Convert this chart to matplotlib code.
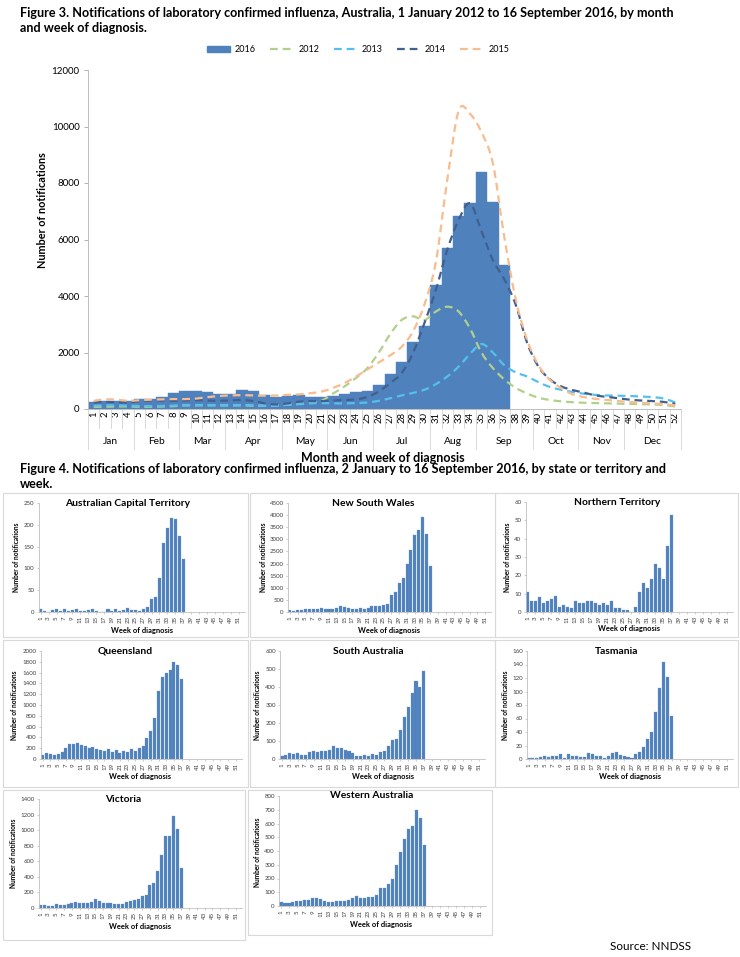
import numpy as np
import matplotlib
matplotlib.use('Agg')
import matplotlib.pyplot as plt
from matplotlib.path import Path
from matplotlib.patches import PathPatch, Patch, Rectangle
from matplotlib.lines import Line2D
import matplotlib.transforms as mtransforms

plt.rcParams['font.family'] = ['Lato', 'DejaVu Sans']

# ---------------- data: national (Figure 3) ----------------
weeks = list(range(1, 53))
weeks_2016 = list(range(1, 38))
cases_2016 = [260, 300, 290, 280, 340, 370, 440, 560, 620, 630, 590, 545, 545,
              675, 640, 510, 440, 475, 485, 440, 415, 475, 545, 590, 640, 840,
              1250, 1650, 2360, 2950, 4390, 5690, 6840, 7280, 8400, 7340, 5100]
cases_2012 = [80, 80, 90, 90, 80, 80, 90, 100, 130, 130, 130, 130, 130, 130, 120,
              120, 130, 150, 180, 220, 300, 550, 800, 1100, 1450, 2000, 2650,
              3150, 3280, 3150, 3450, 3620, 3450, 2850, 2000, 1450, 1050, 750,
              550, 400, 320, 270, 240, 220, 210, 200, 190, 180, 170, 160, 140, 90]
cases_2013 = [120, 130, 130, 120, 110, 100, 110, 120, 130, 140, 140, 130, 130,
              140, 130, 110, 120, 150, 170, 200, 210, 200, 200, 210, 230, 290,
              380, 480, 570, 680, 880, 1150, 1500, 1950, 2300, 2000, 1550, 1300,
              1150, 950, 780, 680, 600, 540, 500, 480, 470, 460, 440, 420, 370, 230]
cases_2014 = [230, 250, 240, 230, 280, 300, 300, 290, 300, 310, 300, 290, 300,
              320, 280, 200, 160, 200, 260, 280, 280, 300, 320, 340, 430, 620,
              920, 1270, 1980, 3040, 4210, 5630, 6690, 7280, 6300, 5270, 4600,
              3700, 2350, 1500, 1050, 800, 670, 580, 480, 430, 380, 330, 300,
              280, 250, 180]
cases_2015 = [290, 340, 330, 290, 310, 330, 340, 350, 350, 370, 420, 460, 480,
              490, 480, 470, 480, 500, 520, 560, 620, 750, 920, 1150, 1400, 1650,
              1900, 2200, 2750, 3700, 5200, 8100, 10550, 10450, 9800, 8700, 6100,
              3900, 2450, 1550, 1030, 740, 520, 420, 360, 320, 280, 250, 220, 200,
              170, 130]
months = ['Jan', 'Feb', 'Mar', 'Apr', 'May', 'Jun', 'Jul', 'Aug', 'Sep', 'Oct',
          'Nov', 'Dec']
month_week_counts = [4, 4, 4, 5, 4, 4, 5, 4, 5, 4, 4, 5]
main_yticks = [0, 2000, 4000, 6000, 8000, 10000, 12000]

# ---------------- data: states (Figure 4) ----------------
states = ['Australian Capital Territory', 'New South Wales', 'Northern Territory',
          'Queensland', 'South Australia', 'Tasmania', 'Victoria',
          'Western Australia']
act = [8, 3, 1, 4, 6, 2, 7, 2, 5, 7, 3, 3, 4, 6, 2, 1, 1, 6, 2, 6, 3, 5, 10, 5,
       5, 2, 6, 11, 30, 35, 77, 158, 193, 215, 214, 174, 121]
nsw = [80, 50, 100, 90, 110, 130, 130, 130, 150, 140, 140, 140, 150, 240, 200,
       150, 110, 110, 150, 130, 170, 230, 260, 230, 270, 350, 700, 830, 1200,
       1400, 2000, 2580, 3180, 3400, 3920, 3200, 1900]
nt = [11, 6, 6, 8, 5, 6, 7, 9, 3, 4, 3, 2, 6, 5, 5, 6, 6, 5, 4, 5, 4, 6, 2, 2, 1,
      1, 0, 3, 11, 16, 13, 18, 26, 24, 18, 36, 53]
qld = [80, 110, 90, 70, 100, 130, 200, 270, 270, 300, 260, 240, 210, 230, 190,
       160, 150, 180, 130, 170, 120, 140, 130, 180, 150, 200, 240, 390, 520, 760,
       1260, 1520, 1590, 1650, 1800, 1740, 1490]
sa = [15, 20, 32, 28, 35, 20, 25, 40, 45, 38, 42, 42, 48, 75, 62, 62, 52, 42, 33,
      18, 18, 20, 15, 27, 22, 38, 45, 75, 105, 110, 160, 232, 288, 365, 435, 400,
      488]
tas = [2, 1, 2, 3, 4, 3, 4, 5, 7, 2, 7, 5, 5, 3, 3, 9, 8, 4, 5, 2, 4, 9, 10, 6, 5,
       3, 2, 7, 10, 18, 30, 40, 70, 105, 143, 122, 64]
vic = [35, 35, 25, 25, 45, 40, 40, 50, 60, 80, 70, 70, 70, 80, 110, 90, 70, 70,
       60, 50, 45, 45, 75, 90, 100, 120, 150, 165, 290, 320, 470, 680, 930, 920,
       1180, 1010, 515]
wa = [30, 25, 25, 28, 40, 38, 45, 42, 55, 55, 52, 38, 30, 32, 38, 40, 38, 45, 60,
      70, 55, 55, 62, 65, 80, 130, 130, 160, 200, 298, 390, 485, 560, 585, 700,
      638, 442]
state_ymax = [250, 4500, 60, 2000, 600, 160, 1400, 800]
state_ystep = [50, 500, 10, 200, 100, 20, 200, 100]
state_xticks = list(range(1, 53, 2))

# ---------------- styling ----------------
BAR = '#4F81BD'
C2012 = '#B3CF8C'
C2013 = '#55C0EE'
C2014 = '#41608E'
C2015 = '#F7BC8F'
GRID = '#D9D9D9'
TXT = '#404040'

W, H = 740, 957
fig = plt.figure(figsize=(W / 100, H / 100), dpi=100)
fig.patch.set_facecolor('white')


def px_axes(l, t, r, b):
    return fig.add_axes([l / W, 1 - b / H, (r - l) / W, (b - t) / H])


def ftext(x, y, s, **kw):
    return fig.text(x / W, 1 - y / H, s, **kw)


def smooth_path(x, y):
    x = np.asarray(x, float)
    y = np.asarray(y, float)
    n = len(x)
    verts = [(x[0], y[0])]
    codes = [Path.MOVETO]
    for i in range(n - 1):
        p0 = np.array([x[max(i - 1, 0)], y[max(i - 1, 0)]])
        p1 = np.array([x[i], y[i]])
        p2 = np.array([x[i + 1], y[i + 1]])
        p3 = np.array([x[min(i + 2, n - 1)], y[min(i + 2, n - 1)]])
        c1 = p1 + (p2 - p0) / 6.0
        c2 = p2 - (p3 - p1) / 6.0
        verts += [tuple(c1), tuple(c2), tuple(p2)]
        codes += [Path.CURVE4] * 3
    return Path(verts, codes)


# ---------------- titles ----------------
ftext(20, 7, 'Figure 3. Notifications of laboratory confirmed influenza, Australia, '
      '1 January 2012 to 16 September 2016, by month\nand week of diagnosis.',
      fontsize=9.1, fontweight='bold', va='top', ha='left', linespacing=1.35,
      color='black')

# ---------------- main chart ----------------
ax = px_axes(88, 70, 681, 409)
ax.bar(weeks_2016, cases_2016, width=1.0, color=BAR, edgecolor=BAR,
       linewidth=0.3, zorder=2)
dash = (0, (3.5, 2.2))
for series, col in [(cases_2012, C2012), (cases_2013, C2013),
                    (cases_2014, C2014), (cases_2015, C2015)]:
    pp = PathPatch(smooth_path(weeks, series), fill=False, edgecolor=col,
                   linewidth=1.6, linestyle=dash, zorder=3, capstyle='butt')
    ax.add_patch(pp)
ax.set_xlim(0.5, 52.5)
ax.set_ylim(0, 12000)
ax.set_yticks(main_yticks)
ax.set_yticklabels([str(v) for v in main_yticks], fontsize=7, color='black')
ax.tick_params(axis='y', length=3, width=0.6, color='#A6A6A6', pad=3)
ax.set_xticks(weeks)
ax.set_xticklabels([str(w) for w in weeks], rotation=90, fontsize=6.8,
                   color='black')
ax.tick_params(axis='x', length=0, pad=2)
for s in ['top', 'right']:
    ax.spines[s].set_visible(False)
ax.spines['left'].set_color('#BFBFBF')
ax.spines['left'].set_linewidth(0.7)
ax.spines['bottom'].set_color('#BFBFBF')
ax.spines['bottom'].set_linewidth(0.7)

trans = mtransforms.blended_transform_factory(ax.transData, ax.transAxes)
yrow = -(428 - 409) / 339
ymon = -(449 - 409) / 339
for k in range(0, 53):
    ax.plot([k + 0.5, k + 0.5], [0, yrow], transform=trans, color=GRID,
            lw=0.7, clip_on=False)
edges = np.concatenate([[0.5], 0.5 + np.cumsum(month_week_counts)])
for e in edges:
    ax.plot([e, e], [0, ymon], transform=trans, color=GRID, lw=0.7,
            clip_on=False)
for i, m in enumerate(months):
    ax.text((edges[i] + edges[i + 1]) / 2, -(442 - 409) / 339, m,
            transform=trans, ha='center', va='center', fontsize=7.4,
            color='black')

ftext(42, 210, 'Number of notifications', rotation=90, fontsize=7.8,
      fontweight='bold', ha='center', va='center')
ftext(383, 458, 'Month and week of diagnosis', fontsize=9, fontweight='bold',
      ha='center', va='center')

handles = [Patch(facecolor=BAR, edgecolor=BAR),
           Line2D([], [], color=C2012, lw=1.6, linestyle=dash),
           Line2D([], [], color=C2013, lw=1.6, linestyle=dash),
           Line2D([], [], color=C2014, lw=1.6, linestyle=dash),
           Line2D([], [], color=C2015, lw=1.6, linestyle=dash)]
leg = ax.legend(handles, ['2016', '2012', '2013', '2014', '2015'], ncol=5,
                loc='center', bbox_to_anchor=((358 - 88) / 593, 1 + 20 / 339),
                frameon=False, fontsize=6.5, handlelength=2.6,
                handleheight=0.6, columnspacing=1.6, handletextpad=0.5)

# ---------------- Figure 4 ----------------
ftext(20, 463, 'Figure 4. Notifications of laboratory confirmed influenza, '
      '2 January to 16 September 2016, by state or territory and\nweek.',
      fontsize=9.1, fontweight='bold', va='top', ha='left', linespacing=1.3,
      color='black')

state_data = [act, nsw, nt, qld, sa, tas, vic, wa]
# axes boxes (l, t, r, b) in pixels
axes_px = [(38.7, 503, 244.6, 612), (288, 503, 491, 612), (525.5, 502, 733, 612),
           (40.8, 651, 241.5, 759), (280, 651, 485, 759), (527, 651, 733, 759),
           (38.8, 799, 241.6, 908), (279, 796, 486, 906)]
frames_px = [(3, 493, 248, 637), (250, 493, 495, 637), (495, 493, 738, 637),
             (3, 640, 248, 787), (250, 640, 495, 787), (495, 640, 738, 787),
             (3, 790, 245, 940), (248, 790, 492, 935)]
title_px = [(128, 504), (373, 503), (617, 502), (125, 651), (368, 651),
            (617, 651), (123, 799), (372, 796)]
ylab_px = [(17, 557), (263, 557), (507, 557), (15, 705), (258, 705), (506, 705),
           (14, 853), (258, 852)]
xlab_px = [(142, 630), (389, 630), (629, 628), (140, 777), (383, 777),
           (630, 777), (140, 926), (381, 925)]

for i in range(8):
    l, t, r, b = frames_px[i]
    fig.patches.append(Rectangle((l / W, 1 - b / H), (r - l) / W, (b - t) / H,
                                 transform=fig.transFigure, fill=False,
                                 edgecolor=GRID, lw=0.8))
    a = px_axes(*axes_px[i])
    a.bar(weeks_2016, state_data[i], width=0.78, color=BAR, edgecolor='#6F97C9',
          linewidth=0.2)
    a.set_xlim(0.5, 52.5)
    a.set_ylim(0, state_ymax[i])
    yt = list(range(0, state_ymax[i] + 1, state_ystep[i]))
    a.set_yticks(yt)
    a.set_yticklabels([str(v) for v in yt], fontsize=4.4, color=TXT)
    a.set_xticks(state_xticks)
    a.set_xticklabels([str(v) for v in state_xticks], rotation=90,
                      fontsize=4.4, color=TXT)
    a.tick_params(axis='both', length=1.5, width=0.4, color='#A6A6A6', pad=1.5)
    for s in ['top', 'right']:
        a.spines[s].set_visible(False)
    for s in ['left', 'bottom']:
        a.spines[s].set_color('#BFBFBF')
        a.spines[s].set_linewidth(0.6)
    ftext(*title_px[i], states[i], fontsize=7.4, fontweight='bold',
          ha='center', va='center')
    ftext(*ylab_px[i], 'Number of notifications', rotation=90, fontsize=4.7,
          fontweight='bold', ha='center', va='center')
    ftext(*xlab_px[i], 'Week of diagnosis', fontsize=5.4, fontweight='bold',
          ha='center', va='center')

ftext(610, 946, 'Source: NNDSS', fontsize=8.4, ha='left', va='center')

fig.savefig('out.png', dpi=100, facecolor='white')
